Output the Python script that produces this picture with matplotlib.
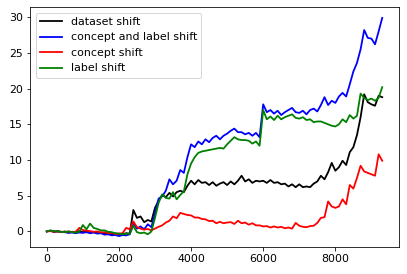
import numpy as np
import matplotlib
matplotlib.use("Agg")
import matplotlib.pyplot as plt

matplotlib.rcParams["font.size"] = 11

# sample positions (every 100 steps)
steps = list(range(0, 9400, 100))

dataset_shift = [
    0.0, 0.1, -0.05, 0.05, -0.1, 0.0, -0.15, -0.05, -0.1, 0.05,
    -0.1, -0.05, -0.15, -0.1, -0.25, -0.15, -0.3, -0.25, -0.4, -0.3,
    -0.35, -0.4, -0.25, -0.3, 3.0, 1.9, 2.1, 1.3, 1.6, 1.4,
    3.3, 4.3, 5.1, 4.8, 5.4, 4.9, 5.5, 5.7, 5.5, 6.4,
    7.1, 6.6, 7.2, 6.8, 6.9, 6.5, 6.9, 6.4, 6.7, 6.9,
    6.5, 7.0, 6.6, 7.1, 7.8, 7.0, 7.3, 6.8, 7.1, 7.0,
    7.1, 6.8, 7.2, 6.8, 6.9, 6.6, 6.7, 6.3, 6.6, 6.2,
    6.6, 6.2, 6.3, 6.2, 6.7, 7.0, 7.8, 7.3, 8.3, 9.6,
    8.5, 9.0, 9.9, 9.3, 11.1, 11.8, 13.5, 16.0, 19.2, 18.1,
    17.8, 17.6, 19.0, 18.8,
]

concept_label_shift = [
    0.0, 0.1, -0.05, 0.0, -0.05, -0.1, -0.2, -0.15, -0.25, -0.15,
    -0.2, -0.1, -0.25, -0.15, -0.3, -0.25, -0.45, -0.4, -0.55, -0.5,
    -0.65, -0.5, -0.55, -0.4, 1.2, 0.4, 0.7, 0.3, 1.0, 0.6,
    2.5, 4.6, 4.9, 5.7, 7.3, 6.6, 7.1, 8.6, 8.2, 10.4,
    12.2, 11.8, 12.6, 12.2, 12.9, 12.5, 13.1, 13.4, 12.9, 13.4,
    13.7, 14.1, 14.4, 13.9, 13.9, 13.6, 13.8, 13.4, 13.8, 13.2,
    17.8, 16.7, 17.0, 16.5, 16.9, 16.3, 16.7, 17.0, 17.3, 16.7,
    16.6, 16.9, 16.4, 17.0, 17.2, 16.8, 17.7, 18.8, 17.7, 18.3,
    18.0, 18.9, 19.4, 18.9, 20.6, 22.4, 23.6, 25.5, 28.2, 27.1,
    27.0, 26.2, 28.0, 29.9,
]

concept_shift = [
    0.0, 0.05, -0.05, 0.0, -0.05, -0.1, 0.0, -0.1, -0.05, 0.5,
    0.2, 0.1, 0.05, -0.05, 0.0, -0.15, -0.1, -0.25, -0.2, -0.35,
    -0.3, -0.25, 0.5, 0.3, 1.4, 0.6, 0.4, 0.25, 0.35, 0.15,
    0.4, 0.65, 0.85, 1.25, 1.5, 2.1, 1.85, 2.6, 2.45, 2.3,
    2.25, 1.95, 1.95, 1.75, 1.7, 1.45, 1.5, 1.15, 1.35, 1.15,
    1.25, 1.3, 1.05, 1.5, 1.15, 1.25, 0.95, 1.15, 0.85, 0.85,
    0.7, 0.75, 0.55, 0.7, 0.55, 0.65, 0.45, 0.55, 0.4, 1.2,
    0.8, 0.65, 0.6, 0.75, 0.8, 1.2, 1.9, 2.0, 4.2, 3.5,
    3.3, 3.5, 4.5, 3.8, 6.5, 6.0, 7.5, 9.2, 8.4, 8.2,
    8.0, 7.8, 10.8, 9.9,
]

label_shift = [
    0.0, 0.15, 0.05, 0.0, -0.05, -0.1, 0.0, -0.1, -0.15, -0.05,
    0.9, 0.3, 1.1, 0.5, 0.35, 0.15, 0.15, -0.05, -0.1, -0.25,
    -0.3, -0.4, -0.3, -0.35, 0.8, -0.1, -0.25, -0.15, -0.4, 0.0,
    1.9, 4.0, 5.2, 4.7, 4.6, 5.5, 4.5, 5.1, 5.6, 8.0,
    9.5, 10.4, 11.0, 11.2, 11.3, 11.4, 11.5, 11.6, 11.7, 11.6,
    12.2, 12.7, 13.2, 12.9, 12.8, 12.8, 12.7, 12.3, 12.6, 12.0,
    17.0, 15.7, 16.1, 15.6, 16.2, 15.7, 16.0, 16.2, 16.4, 15.9,
    15.8, 16.0, 15.6, 15.7, 15.3, 15.4, 15.4, 15.2, 15.0, 14.8,
    14.7, 15.0, 15.7, 15.3, 16.3, 15.8, 16.2, 19.3, 18.7, 18.4,
    18.6, 18.3, 18.7, 20.2,
]

series = [
    ("dataset shift", dataset_shift, "black"),
    ("concept and label shift", concept_label_shift, "blue"),
    ("concept shift", concept_shift, "red"),
    ("label shift", label_shift, "green"),
]

fig = plt.figure(figsize=(407 / 72, 274 / 72), dpi=72)
ax = fig.add_axes([30 / 407, 27 / 274, 369 / 407, 240 / 274])

for name, vals, col in series:
    ax.plot(steps, vals, color=col, linewidth=1.8, label=name)

ax.legend(loc="upper left")

fig.savefig("out.png", dpi=72)
